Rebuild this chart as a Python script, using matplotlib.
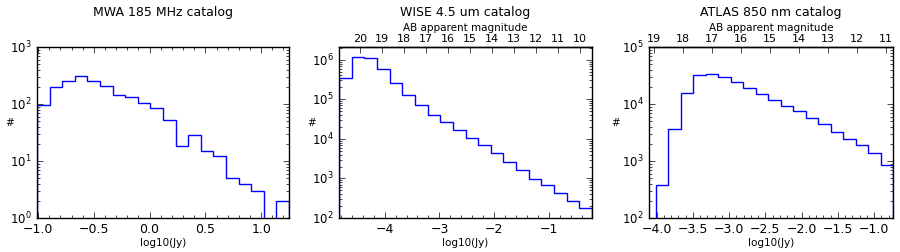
import numpy as np
import matplotlib
matplotlib.use('Agg')
import matplotlib.pyplot as plt
from matplotlib.ticker import AutoMinorLocator, LogLocator, NullFormatter

# counts per bin (log10 of flux in Jy)
mwa_counts = [96, 201, 257, 306, 257, 204, 142, 134, 104, 86,
              53, 18, 29, 15, 12, 5, 4, 3, 0, 2]
mwa_range = (-1.01, 1.25)

wise_counts = [344000, 1170000, 1100000, 570000, 257000, 126000, 70200,
               40800, 26100, 16700, 10700, 6850, 4390, 2600, 1660, 986,
               668, 437, 269, 179]
wise_range = (-4.83, -0.22)

atlas_counts = [374, 3640, 15400, 32300, 34000, 29800, 24000, 19100, 15000,
                11900, 9350, 7430, 5760, 4520, 3230, 2430, 1880, 1380, 862]
atlas_range = (-4.01, -0.74)

titles = ['MWA 185 MHz catalog', 'WISE 4.5 um catalog', 'ATLAS 850 nm catalog']
wise_mags = list(range(10, 21))
atlas_mags = list(range(11, 20))


def flux_to_mag(x):
    return -2.5 * np.asarray(x) + 8.9


def mag_to_flux(m):
    return (8.9 - np.asarray(m)) / 2.5


plt.style.use('classic')
plt.rcParams['figure.facecolor'] = 'white'
plt.rcParams['savefig.facecolor'] = 'white'
plt.rcParams['font.size'] = 7.5

fig = plt.figure(figsize=(9, 2.53), dpi=100)
bottom, height = 1 - 219 / 253., 171 / 253.
ax1 = fig.add_axes([37 / 900., bottom, 252 / 900., height])
ax2 = fig.add_axes([339 / 900., bottom, 253 / 900., height])
ax3 = fig.add_axes([649 / 900., bottom, 244 / 900., height])

panels = [
    (ax1, mwa_counts, mwa_range, (1, 1e3), mwa_range, None, -0.107),
    (ax2, wise_counts, wise_range, (1e2, 2.1e6), wise_range, wise_mags, -0.107),
    (ax3, atlas_counts, atlas_range, (1e2, 1e5), (-4.105, -0.74), atlas_mags, -0.139),
]

for i, (ax, counts, rng, ylim, xlim, mags, ylab_x) in enumerate(panels):
    edges = np.linspace(rng[0], rng[1], len(counts) + 1)
    centers = 0.5 * (edges[:-1] + edges[1:])
    ax.set_yscale('log')
    ax.hist(centers, bins=edges, weights=counts, histtype='step',
            color='b', lw=1)
    ax.set_xlim(xlim)
    ax.set_ylim(ylim)
    ax.xaxis.set_minor_locator(AutoMinorLocator())
    ax.yaxis.set_major_locator(LogLocator(base=10))
    ax.tick_params(axis='x', labelsize=9, pad=3)
    ax.tick_params(axis='y', labelsize=8.5)
    ax.set_xlabel('log10(Jy)', fontsize=7.5, labelpad=1)
    ax.set_ylabel('#', fontsize=7.5, rotation=0)
    ax.yaxis.set_label_coords(ylab_x, 0.53)
    ax.set_title(titles[i], fontsize=9, y=1.19, pad=0)
    if mags is not None:
        ax.tick_params(axis='x', which='both', top=False)
        top = ax.secondary_xaxis('top', functions=(flux_to_mag, mag_to_flux))
        top.set_xticks(mags)
        top.xaxis.set_minor_formatter(NullFormatter())
        top.tick_params(direction='in', labelsize=8, length=4, pad=3)
        top.tick_params(which='minor', length=0)
        top.set_xlabel('AB apparent magnitude', fontsize=7.5, labelpad=2)

fig.savefig('out.png', dpi=100)
